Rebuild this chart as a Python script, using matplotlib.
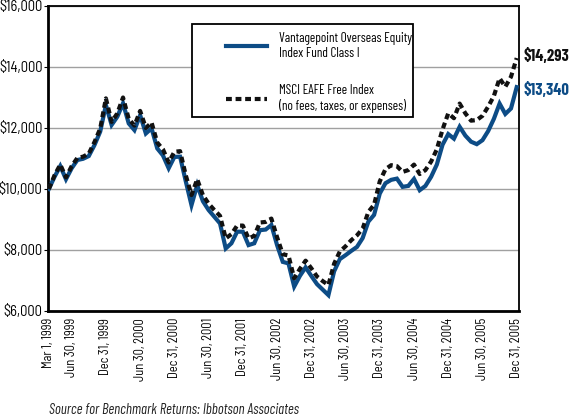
import matplotlib
matplotlib.use("Agg")
import matplotlib.pyplot as plt
from matplotlib.lines import Line2D
from matplotlib.patches import Rectangle
from matplotlib.ticker import FuncFormatter
import numpy as np

plt.rcParams['font.family'] = ['Barlow Condensed', 'DejaVu Sans']
semi = ['Barlow Semi Condensed', 'DejaVu Sans']

# monthly growth of $10,000, Mar 1 1999 .. Dec 31 2005
fund = [10000, 10400, 10750, 10320, 10680, 10950, 10990, 11080, 11440, 11880,
        12750, 12100, 12370, 12810, 12150, 11930, 12420, 11820, 11990, 11330,
        11100, 10680, 11050, 11060, 10250, 9470, 10130, 9600, 9310, 9090,
        8870, 8050, 8220, 8600, 8600, 8160, 8220, 8650, 8670, 8820,
        8160, 7610, 7560, 6800, 7150, 7430, 7150, 6880, 6700, 6520,
        7300, 7700, 7830, 7970, 8100, 8390, 8930, 9150, 9850, 10190,
        10300, 10340, 10070, 10100, 10330, 9960, 10100, 10400, 10800, 11450,
        11800, 11650, 12040, 11750, 11550, 11470, 11600, 11900, 12300, 12800,
        12460, 12640, 13340]
index = [10000, 10450, 10800, 10380, 10750, 11020, 11060, 11160, 11540, 11980,
         12970, 12200, 12480, 13000, 12300, 12080, 12560, 12000, 12180, 11520,
         11300, 10870, 11220, 11240, 10450, 9800, 10320, 9800, 9520, 9310,
         9120, 8380, 8520, 8800, 8800, 8380, 8460, 8900, 8920, 9030,
         8420, 7860, 7820, 7070, 7380, 7650, 7400, 7130, 6980, 6850,
         7550, 7950, 8120, 8320, 8480, 8700, 9250, 9480, 10250, 10650,
         10780, 10750, 10560, 10620, 10800, 10490, 10620, 10900, 11300, 11950,
         12480, 12320, 12800, 12480, 12240, 12260, 12400, 12700, 13050, 13630,
         13350, 13680, 14293]

tick_pos = [0, 4, 10, 16, 22, 28, 34, 40, 46, 52, 58, 64, 70, 76, 82]
tick_labels = ["Mar 1, 1999", "Jun 30, 1999", "Dec 31, 1999", "Jun 30, 2000",
               "Dec 31, 2000", "Jun 30, 2001", "Dec 31, 2001", "Jun 30, 2002",
               "Dec 31, 2002", "Jun 30, 2003", "Dec 31, 2003", "Jun 30, 2004",
               "Dec 31, 2004", "Jun 30, 2005", "Dec 31, 2005"]

blue = '#0d4c86'
dash = (0, (1.4, 0.9))

fig = plt.figure(figsize=(5.7, 4.19), dpi=100)
ax = fig.add_axes([0.0842, 0.2578, 0.8263, 0.7279])

x = np.arange(len(fund))
ax.plot(x, fund, color=blue, lw=3.0, solid_joinstyle='miter', zorder=3)
ax.plot(x, index, color='#111111', lw=3.0, ls=dash, zorder=4)

ax.set_xlim(-0.15, 82.4)
ax.set_ylim(6000, 16000)
ax.set_yticks(np.arange(6000, 16001, 2000))
ax.yaxis.set_major_formatter(FuncFormatter(lambda v, p: '${:,.0f}'.format(v)))
ax.grid(axis='y', color='#a0a0a0', lw=1.0)
ax.set_axisbelow(True)
ax.set_xticks(tick_pos)
ax.set_xticklabels(tick_labels, rotation=90, fontsize=9, family=semi)
for t in ax.get_yticklabels():
    t.set_family(semi)
    t.set_fontsize(10.5)
ax.tick_params(axis='y', length=3, pad=1)
ax.tick_params(axis='x', length=0, pad=5)
for s in ax.spines.values():
    s.set_color('black')
    s.set_linewidth(1.3)
ax.spines['left'].set_linewidth(2)
ax.spines['bottom'].set_linewidth(2)

ax.text(1.01, index[-1] + 60, '$14,293', transform=ax.get_yaxis_transform(),
        fontsize=12, fontweight='bold', color='#111111', va='center')
ax.text(1.01, fund[-1] - 80, '$13,340', transform=ax.get_yaxis_transform(),
        fontsize=12, fontweight='bold', color=blue, va='center')

# legend box drawn separately so the inner padding matches
ax.add_patch(Rectangle((0.306, 0.636), 0.469, 0.305, transform=ax.transAxes,
                       facecolor='white', edgecolor='black', lw=1.3, zorder=5))
handles = [Line2D([], [], color=blue, lw=3.0),
           Line2D([], [], color='#111111', lw=3.0, ls=dash)]
leg = ax.legend(handles, ["Vantagepoint Overseas Equity\nIndex Fund Class I",
                          "MSCI EAFE Free Index\n(no fees, taxes, or expenses)"],
                loc='upper left', bbox_to_anchor=(0.378, 0.916), fontsize=9.5,
                handlelength=3.1, handletextpad=0.95, labelspacing=1.85,
                borderpad=0, borderaxespad=0, frameon=False)
leg.set_zorder(6)

fig.text(0.086, 0.012, "Source for Benchmark Returns: Ibbotson Associates",
         fontsize=10.5, style='italic', color='#222222')

fig.savefig('out.png', dpi=100)
